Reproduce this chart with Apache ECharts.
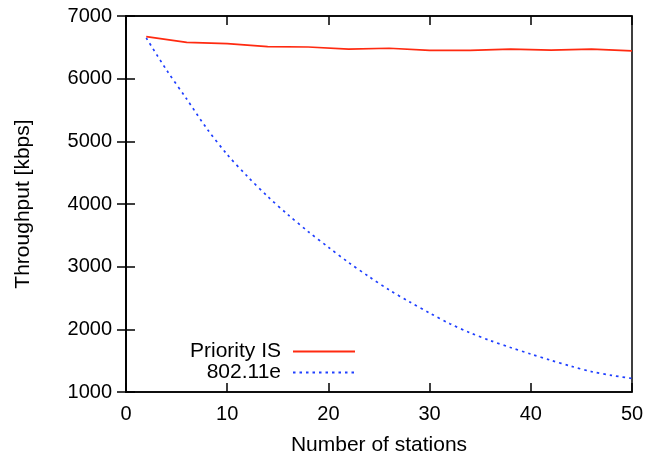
<!DOCTYPE html>
<html>
<head>
<meta charset="utf-8">
<script src="https://cdn.jsdelivr.net/npm/echarts@6/dist/echarts.min.js"></script>
<style>
html,body{margin:0;padding:0;background:#fff;}
#chart{width:649px;height:461px;}
</style>
</head>
<body>
<div id="chart"></div>
<script>
// Data
const seriesNames = ['Priority IS', '802.11e'];
const priorityX = [2, 6, 10, 14, 18, 22, 26, 30, 34, 38, 42, 46, 50];
const priorityY = [6670, 6580, 6560, 6510, 6505, 6470, 6485, 6450, 6450, 6470, 6455, 6470, 6445];
const edcaX = [2, 4, 6, 8, 10, 12, 14, 16, 18, 20, 22, 24, 26, 28, 30, 32, 34, 36, 38, 40, 42, 44, 46, 48, 50];
const edcaY = [6650, 6140, 5674, 5201, 4790, 4440, 4120, 3830, 3560, 3310, 3066, 2842, 2630, 2440, 2260, 2090, 1945, 1820, 1710, 1605, 1505, 1410, 1325, 1265, 1217];
const xTicks = [0, 10, 20, 30, 40, 50];
const yTicks = [1000, 2000, 3000, 4000, 5000, 6000, 7000];

const pairs = (xs, ys) => xs.map((x, i) => [x, ys[i]]);
const font = 'Liberation Sans, Arial, Helvetica, sans-serif';
const black = '#000';

const chart = echarts.init(document.getElementById('chart'), null, {renderer: 'canvas'});
const xMin = xTicks[0], xMax = xTicks[xTicks.length - 1];
const yMin = yTicks[0], yMax = yTicks[yTicks.length - 1];
const xInt = xTicks[1] - xTicks[0], yInt = yTicks[1] - yTicks[0];

const tickStyle = {show: true, inside: true, length: 9, lineStyle: {color: black, width: 1.5}};
const legendBase = {orient: 'vertical', align: 'right', right: 293, padding: 0, itemWidth: 62, itemHeight: 14, itemGap: 0,
  itemStyle: {opacity: 0, borderWidth: 0},
  textStyle: {fontSize: 21, color: black, fontFamily: font, padding: [0, 7, 0, 0]}};

chart.setOption({
  animation: false,
  backgroundColor: '#fff',
  textStyle: {fontFamily: font},
  grid: {left: 126, right: 17, top: 16, bottom: 69, show: true, borderColor: black, borderWidth: 1.5, backgroundColor: 'transparent', containLabel: false},
  legend: [
    Object.assign({}, legendBase, {data: [seriesNames[0]], top: 341}),
    Object.assign({}, legendBase, {data: [seriesNames[1]], top: 362})
  ],
  xAxis: [
    {type: 'value', min: xMin, max: xMax, interval: xInt, position: 'bottom',
     name: 'Number of stations', nameLocation: 'middle', nameGap: 43,
     nameTextStyle: {fontSize: 21, color: black, fontFamily: font},
     axisLine: {show: true, lineStyle: {color: black, width: 1.5}},
     axisTick: tickStyle,
     axisLabel: {fontSize: 20, color: black, margin: 12, fontFamily: font},
     splitLine: {show: false}},
    {type: 'value', min: xMin, max: xMax, interval: xInt, position: 'top',
     axisLine: {show: true, lineStyle: {color: black, width: 1.5}},
     axisTick: tickStyle, axisLabel: {show: false}, splitLine: {show: false}}
  ],
  yAxis: [
    {type: 'value', min: yMin, max: yMax, interval: yInt, position: 'left',
     name: 'Throughput [kbps]', nameLocation: 'middle', nameGap: 92, nameRotate: 90,
     nameTextStyle: {fontSize: 21, color: black, fontFamily: font},
     axisLine: {show: true, lineStyle: {color: black, width: 1.5}},
     axisTick: tickStyle,
     axisLabel: {fontSize: 20, color: black, margin: 14, fontFamily: font, formatter: v => String(v)},
     splitLine: {show: false}},
    {type: 'value', min: yMin, max: yMax, interval: yInt, position: 'right',
     axisLine: {show: true, lineStyle: {color: black, width: 1.5}},
     axisTick: tickStyle, axisLabel: {show: false}, splitLine: {show: false}}
  ],
  series: [
    {name: seriesNames[0], type: 'line', data: pairs(priorityX, priorityY), symbol: 'none',
     lineStyle: {color: '#ff2a10', width: 1.7}, itemStyle: {color: '#ff2a10'}},
    {name: seriesNames[1], type: 'line', data: pairs(edcaX, edcaY), symbol: 'none', smooth: 0.3,
     lineStyle: {color: '#1f3fff', width: 1.7, type: [2.5, 4]}, itemStyle: {color: '#1f3fff'}}
  ]
});
</script>
</body>
</html>
